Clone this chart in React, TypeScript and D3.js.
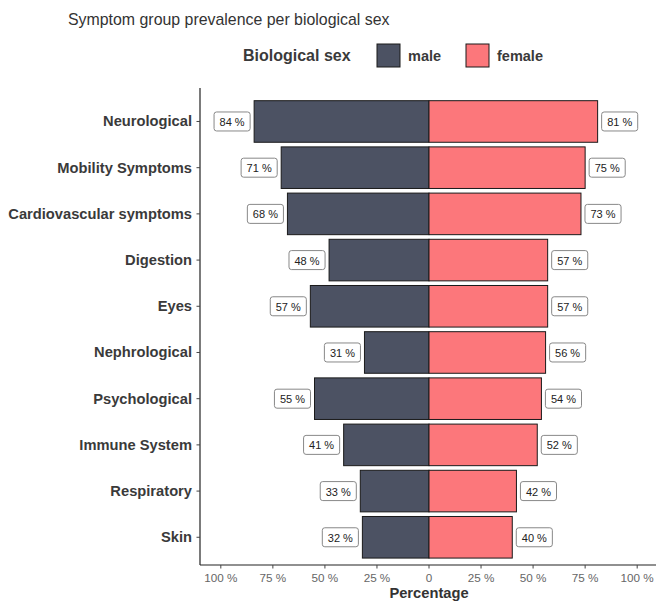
import React, { useEffect, useRef } from "react";
import * as d3 from "d3";

const categories = [
  "Neurological",
  "Mobility Symptoms",
  "Cardiovascular symptoms",
  "Digestion",
  "Eyes",
  "Nephrological",
  "Psychological",
  "Immune System",
  "Respiratory",
  "Skin",
];
const maleValues = [84, 71, 68, 48, 57, 31, 55, 41, 33, 32];
const femaleValues = [81, 75, 73, 57, 57, 56, 54, 52, 42, 40];
const xTickValues = [-100, -75, -50, -25, 0, 25, 50, 75, 100];
const xTickLabels = ["100 %", "75 %", "50 %", "25 %", "0", "25 %", "50 %", "75 %", "100 %"];
const legendItems = ["male", "female"];

const W = 656;
const H = 601;
const FONT = "'Liberation Sans', Arial, Helvetica, sans-serif";
const MALE = "#4C5263";
const FEMALE = "#FC777B";

export default function App() {
  const ref = useRef<SVGSVGElement | null>(null);

  useEffect(() => {
    const svg = d3.select(ref.current);
    svg.selectAll("*").remove();

    const panel = { left: 200, right: 658, top: 88, bottom: 565 };
    const x = d3.scaleLinear().domain([-110, 110]).range([panel.left, panel.right]);
    const step = 46.2;
    const y = d3
      .scalePoint<string>()
      .domain(categories)
      .range([565 - 0.6 * step - 9 * step, 565 - 0.6 * step]);
    const barH = step * 0.9;

    const g = svg.append("g");

    categories.forEach((c, i) => {
      const cy = y(c)!;
      g.append("rect")
        .attr("x", x(-maleValues[i]))
        .attr("y", cy - barH / 2)
        .attr("width", x(0) - x(-maleValues[i]))
        .attr("height", barH)
        .attr("fill", MALE)
        .attr("stroke", "#1a1a1a")
        .attr("stroke-width", 1);
      g.append("rect")
        .attr("x", x(0))
        .attr("y", cy - barH / 2)
        .attr("width", x(femaleValues[i]) - x(0))
        .attr("height", barH)
        .attr("fill", FEMALE)
        .attr("stroke", "#1a1a1a")
        .attr("stroke-width", 1);
    });

    const addLabel = (val: number, cy: number, side: "left" | "right") => {
      const lg = g.append("g");
      const t = lg
        .append("text")
        .text(`${val} %`)
        .attr("font-family", FONT)
        .attr("font-size", 11)
        .attr("fill", "#222")
        .attr("dominant-baseline", "central");
      const tw = (t.node() as SVGTextElement).getComputedTextLength();
      const pad = 5.5;
      const bw = tw + pad * 2;
      const bh = 19;
      const gap = 4;
      const bx = side === "left" ? x(-val) - gap - bw : x(val) + gap;
      lg.insert("rect", "text")
        .attr("x", bx)
        .attr("y", cy - bh / 2)
        .attr("width", bw)
        .attr("height", bh)
        .attr("rx", 2.5)
        .attr("fill", "white")
        .attr("stroke", "#888")
        .attr("stroke-width", 1);
      t.attr("x", bx + pad).attr("y", cy + 0.5);
    };
    categories.forEach((c, i) => {
      addLabel(maleValues[i], y(c)!, "left");
      addLabel(femaleValues[i], y(c)!, "right");
    });

    g.append("line")
      .attr("x1", panel.left)
      .attr("x2", panel.left)
      .attr("y1", panel.top)
      .attr("y2", panel.bottom)
      .attr("stroke", "#222")
      .attr("stroke-width", 1.2);
    g.append("line")
      .attr("x1", panel.left)
      .attr("x2", W)
      .attr("y1", panel.bottom)
      .attr("y2", panel.bottom)
      .attr("stroke", "#222")
      .attr("stroke-width", 1.2);

    categories.forEach((c) => {
      const cy = y(c)!;
      g.append("line")
        .attr("x1", panel.left - 3.5)
        .attr("x2", panel.left)
        .attr("y1", cy)
        .attr("y2", cy)
        .attr("stroke", "#444");
      g.append("text")
        .attr("x", panel.left - 8)
        .attr("y", cy)
        .attr("text-anchor", "end")
        .attr("dominant-baseline", "central")
        .attr("font-family", FONT)
        .attr("font-size", 14.7)
        .attr("font-weight", "bold")
        .attr("fill", "#3a3a3a")
        .text(c);
    });

    xTickValues.forEach((v, i) => {
      const tx = x(v);
      g.append("line")
        .attr("x1", tx)
        .attr("x2", tx)
        .attr("y1", panel.bottom)
        .attr("y2", panel.bottom + 3.5)
        .attr("stroke", "#444");
      g.append("text")
        .attr("x", tx)
        .attr("y", panel.bottom + 17)
        .attr("text-anchor", "middle")
        .attr("font-family", FONT)
        .attr("font-size", 11.7)
        .attr("fill", "#666")
        .text(xTickLabels[i]);
    });

    g.append("text")
      .attr("x", x(0))
      .attr("y", 598)
      .attr("text-anchor", "middle")
      .attr("font-family", FONT)
      .attr("font-size", 14.7)
      .attr("font-weight", "bold")
      .attr("fill", "#333")
      .text("Percentage");

    g.append("text")
      .attr("x", 68)
      .attr("y", 25)
      .attr("font-family", FONT)
      .attr("font-size", 15.9)
      .attr("fill", "#333")
      .text("Symptom group prevalence per biological sex");

    g.append("text")
      .attr("x", 243)
      .attr("y", 55.5)
      .attr("dominant-baseline", "central")
      .attr("font-family", FONT)
      .attr("font-size", 16)
      .attr("font-weight", "bold")
      .attr("fill", "#3a3a3a")
      .text("Biological sex");
    const keyX = [377, 466];
    const keyFill = [MALE, FEMALE];
    legendItems.forEach((lab, i) => {
      g.append("rect")
        .attr("x", keyX[i])
        .attr("y", 44)
        .attr("width", 23)
        .attr("height", 23)
        .attr("fill", keyFill[i])
        .attr("stroke", "#1a1a1a")
        .attr("stroke-width", 1);
      g.append("text")
        .attr("x", keyX[i] + 31)
        .attr("y", 56)
        .attr("dominant-baseline", "central")
        .attr("font-family", FONT)
        .attr("font-size", 14.5)
        .attr("font-weight", "bold")
        .attr("fill", "#3a3a3a")
        .text(lab);
    });
  }, []);

  return (
    <svg
      ref={ref}
      width={W}
      height={H}
      style={{ position: "absolute", left: 0, top: 0, background: "white" }}
    />
  );
}
